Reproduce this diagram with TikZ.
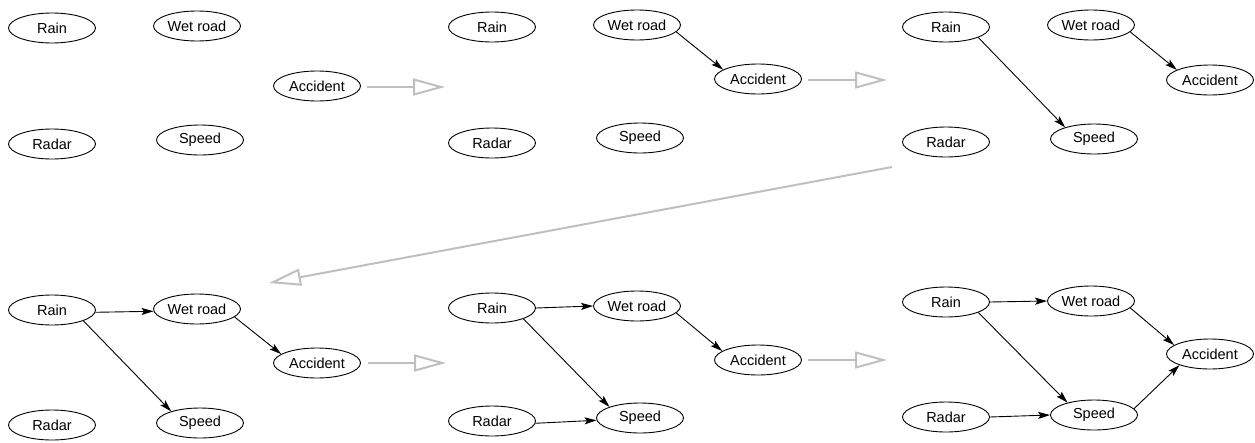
\documentclass[tikz,border=0pt]{standalone}
\usepackage{fontspec}
\setmainfont{Liberation Sans}
\usetikzlibrary{arrows.meta,shapes.geometric}
\begin{document}
\begin{tikzpicture}[x=1pt,y=-1pt,
  var/.style={draw,ellipse,line width=0.9pt,minimum width=87pt,minimum height=30pt,inner sep=0pt,
    font=\fontsize{14.5pt}{16pt}\selectfont},
  edge/.style={line width=0.9pt,-{Stealth[length=12pt,width=7pt,inset=2.5pt]}},
  stage/.style={draw=black!25,line width=2pt,-{Triangle[open,length=32pt,width=17pt,line width=2pt]}}]
\useasboundingbox (0,0) rectangle (1255,442);

% stage 1: no edges
\node[var] (a1) at (52,28) {Rain};
\node[var] (b1) at (197,26) {Wet road};
\node[var] (c1) at (317,86) {Accident};
\node[var] (d1) at (52,144) {Radar};
\node[var] (e1) at (200,140) {Speed};

% stage 2
\node[var] (a2) at (492,27) {Rain};
\node[var] (b2) at (637,25) {Wet road};
\node[var] (c2) at (758,79) {Accident};
\node[var] (d2) at (492,143) {Radar};
\node[var] (e2) at (640,138) {Speed};
\draw[edge] (b2.-10) -- (c2.165);

% stage 3
\node[var] (a3) at (946,27) {Rain};
\node[var] (b3) at (1091,25) {Wet road};
\node[var] (c3) at (1210,80) {Accident};
\node[var] (d3) at (946,142) {Radar};
\node[var] (e3) at (1094,139) {Speed};
\draw[edge] (b3.-10) -- (c3.163);
\draw[edge] (a3.-18) -- (e3.158);

% stage 4
\node[var] (a4) at (52,310) {Rain};
\node[var] (b4) at (197,309) {Wet road};
\node[var] (c4) at (317,363) {Accident};
\node[var] (d4) at (52,425) {Radar};
\node[var] (e4) at (200,423) {Speed};
\draw[edge] (a4.-3) -- (b4.183);
\draw[edge] (b4.-12) -- (c4.166);
\draw[edge] (a4.-19) -- (e4.158);

% stage 5
\node[var] (a5) at (492,308) {Rain};
\node[var] (b5) at (637,306) {Wet road};
\node[var] (c5) at (758,360) {Accident};
\node[var] (d5) at (492,421) {Radar};
\node[var] (e5) at (640,418) {Speed};
\draw[edge] (a5.0) -- (b5.180);
\draw[edge] (b5.-10) -- (c5.166);
\draw[edge] (a5.-19) -- (e5.160);
\draw[edge] (d5.-3) -- (e5.183);

% stage 6
\node[var] (a6) at (946,302) {Rain};
\node[var] (b6) at (1091,301) {Wet road};
\node[var] (c6) at (1210,354) {Accident};
\node[var] (d6) at (946,417) {Radar};
\node[var] (e6) at (1094,415) {Speed};
\draw[edge] (a6.0) -- (b6.180);
\draw[edge] (b6.-10) -- (c6.166);
\draw[edge] (a6.-18) -- (e6.155);
\draw[edge] (d6.0) -- (e6.180);
\draw[edge] (e6.9) -- (c6.-160);

% transitions between stages
\coordinate (s1a) at (367,87);  \coordinate (s1b) at (445,87);
\coordinate (s2a) at (808,80);  \coordinate (s2b) at (887,80);
\coordinate (s3a) at (892,167); \coordinate (s3b) at (269,283);
\coordinate (s4a) at (368,363); \coordinate (s4b) at (446,363);
\coordinate (s5a) at (808,360); \coordinate (s5b) at (887,360);
\draw[stage] (s1a) -- (s1b);
\draw[stage] (s2a) -- (s2b);
\draw[stage] (s3a) -- (s3b);
\draw[stage] (s4a) -- (s4b);
\draw[stage] (s5a) -- (s5b);
\end{tikzpicture}
\end{document}
